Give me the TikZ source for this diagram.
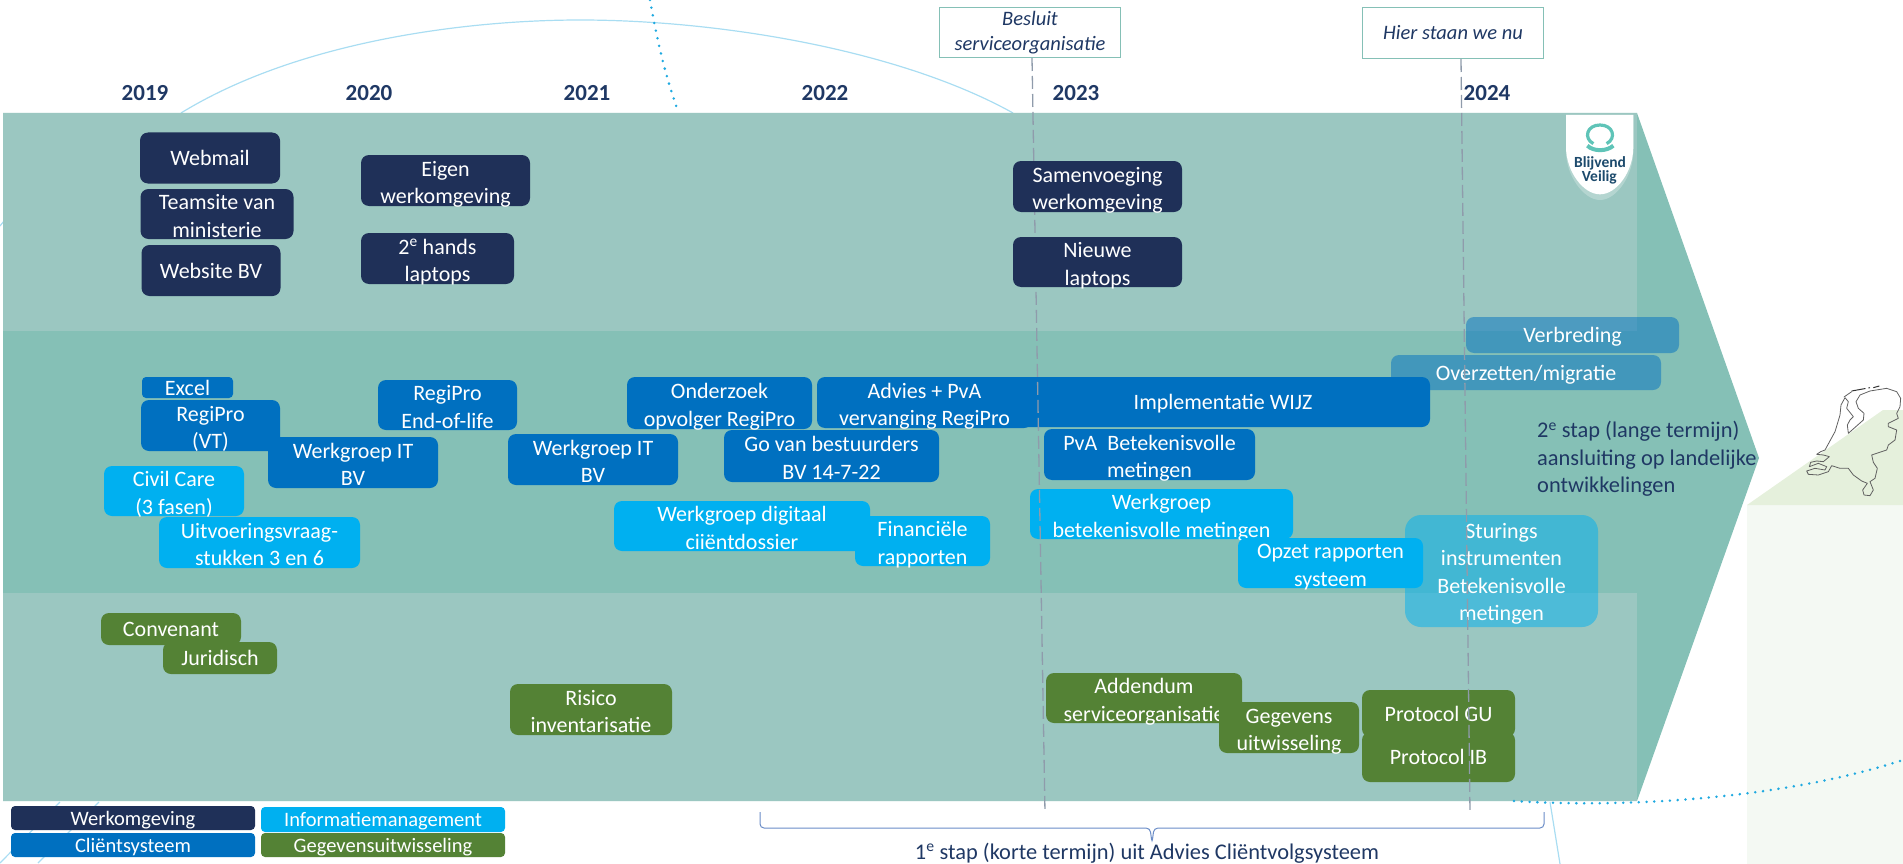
\documentclass[tikz,border=0pt]{standalone}
\usepackage{fontspec}
\setmainfont{Carlito}
\usetikzlibrary{calc}
\definecolor{bandlight}{HTML}{9BC7C1}
\definecolor{banddark}{HTML}{85C0B6}
\definecolor{navyfill}{HTML}{1F3058}
\definecolor{bluefill}{HTML}{0070C0}
\definecolor{skyfill}{HTML}{00B0F0}
\definecolor{greenfill}{HTML}{548235}
\definecolor{inktext}{HTML}{1F3864}
\definecolor{arcline}{HTML}{A9DDF2}
\definecolor{dotline}{HTML}{1FA9E0}
\definecolor{markgray}{HTML}{8F9BAB}
\definecolor{landgreen}{HTML}{E5F0DC}
\definecolor{palegreen}{HTML}{F4F9F3}
\definecolor{logoteal}{HTML}{5FC4B8}
\definecolor{logoink}{HTML}{1C4A6C}
\definecolor{bracecol}{HTML}{6A8CC7}
\tikzset{
  dims/.style 2 args={minimum width=#1,minimum height=#2},
  tlbox/.style={rounded corners=8,inner sep=0,align=center,text=white,
    font=\fontsize{22}{27.5}\selectfont},
  single/.style={text height=20pt,text depth=5pt},
  multi/.style={text height=46pt,text depth=0pt},
  navybox/.style={tlbox,fill=navyfill},
  bluebox/.style={tlbox,fill=bluefill},
  skybox/.style={tlbox,fill=skyfill},
  greenbox/.style={tlbox,fill=greenfill},
  fadebox/.style={tlbox,fill=bluefill,fill opacity=.5,text opacity=1},
  fadesky/.style={tlbox,fill=skyfill,fill opacity=.5,text opacity=1},
  legendbox/.style={tlbox,rounded corners=4,text height=19pt,text depth=5pt,font=\fontsize{20.5}{24}\selectfont},
  yearlabel/.style={text=inktext,font=\fontsize{23}{26}\selectfont\bfseries,inner sep=0},
  notebox/.style={draw=banddark,line width=1.3,fill=white,inner sep=0,align=center,
    text=inktext,font=\fontsize{20.5}{25}\selectfont\itshape},
  markline/.style={markgray,line width=1.3,dash pattern=on 13pt off 5pt},
  bgarc/.style={arcline,line width=1.2},
  bgdots/.style={dotline,line width=2.8,line cap=round,dash pattern=on 0pt off 7.8pt}
}
\begin{document}
\begin{tikzpicture}[x=1pt,y=-1pt]
\useasboundingbox (0,0) rectangle (1903,864);
% achtergrond rechts
\fill[palegreen] (1747,505) rectangle (1903,864);
\fill[landgreen] (1747,505) -- (1883,410) -- (1903,410) -- (1903,505) -- cycle;
\draw[bgarc] (181,113) .. controls (300,40) and (470,20) .. (580,20)
  .. controls (720,20) and (900,50) .. (1013,113);
\draw[bgarc] (0,226) -- (4,221);
\draw[bgarc] (60,802) -- (0,863);
\draw[bgarc] (99,802) -- (38,863);
\draw[bgarc] (1550,802) -- (1560,864);
\draw[bgdots] (650,0) .. controls (657,40) and (665,75) .. (678,111);
% pijl en banden
\fill[banddark] (3,113) -- (1637,113) -- (1759,458) -- (1637,801) -- (3,801) -- cycle;
\fill[bandlight] (3,113) rectangle (1637,331);
\fill[bandlight] (3,593) rectangle (1637,801);
\draw[bgdots] (1514,801) .. controls (1620,808) and (1780,800) .. (1903,760);
% kaart
\begin{scope}[shift={(1790,375)},x=.3333pt,y=-.3333pt]
\draw[gray!75!black,line width=.8,line join=round]
  (105,225) -- (135,170) -- (150,120) -- (153,90) -- (165,68) -- (175,80) -- (170,100)
  -- (190,125) -- (180,135) -- (172,150) -- (175,175) -- (220,135) -- (222,115)
  -- (205,100) -- (198,80) -- (210,60) -- (240,48) -- (290,40) -- (320,50) -- (332,70)
  -- (330,95) -- (320,115) -- (325,130) -- (295,145) -- (295,155) -- (320,165)
  -- (315,195) -- (295,210) -- (290,225) -- (245,240) -- (250,262) -- (262,280)
  -- (255,310) -- (240,320) -- (250,345) -- (240,362) -- (222,360) -- (218,345)
  -- (232,325) -- (215,318) -- (190,300) -- (175,280) -- (150,280) -- (125,272)
  -- (115,290) -- (85,300) -- (55,298) -- (50,288) -- (75,280) -- (105,285)
  -- (110,275) -- (85,265) -- (58,275) -- (62,262) -- (80,258) -- (100,260)
  -- (118,245) -- (100,240) -- (80,238) -- (92,230) -- cycle;
\draw[gray!75!black,line width=.8,line cap=round] (162,66) -- (185,50);
\draw[black!80,line width=1,dash pattern=on 14pt off 3pt] (185,48) -- (240,38);
\draw[black!80,line width=1] (250,38) -- (268,33);
\end{scope}
% logo
\begin{scope}[shift={(1550,105)},x=.3333pt,y=-.3333pt]
\fill[white,opacity=.25] (48,30) -- (250,30) -- (250,140) .. controls (250,210) and (200,285) .. (150,285)
  .. controls (100,285) and (48,210) .. (48,140) -- cycle;
\fill[white] (48,30) -- (250,30) -- (250,125) .. controls (250,200) and (200,268) .. (150,268)
  .. controls (100,268) and (48,200) .. (48,125) -- cycle;
\draw[logoteal,line width=3.2] (130,116) .. controls (100,100) and (110,60) .. (150,60)
  .. controls (190,60) and (200,100) .. (170,116);
\draw[logoteal,line width=4] (112,122) .. controls (130,140) and (170,140) .. (190,122);
\node[inner sep=0,text=logoink,font=\fontsize{15.5}{17}\selectfont\bfseries] (logotop) at (150,175) {Blijvend};
\node[inner sep=0,text=logoink,font=\fontsize{15.5}{17}\selectfont\bfseries] (logobot) at (148,217) {Veilig};
\end{scope}
% jaren
\node[yearlabel] (y2019) at (145,93) {2019};
\node[yearlabel] (y2020) at (369,93) {2020};
\node[yearlabel] (y2021) at (587,93) {2021};
\node[yearlabel] (y2022) at (825,93) {2022};
\node[yearlabel] (y2023) at (1076,93) {2023};
\node[yearlabel] (y2024) at (1487,93) {2024};
% besluiten
\node[notebox,dims={181}{50}] (besluit) at (1030,32.5) {Besluit\\serviceorganisatie};
\node[notebox,dims={181}{51}] (hier) at (1453,33) {Hier staan we nu};
\coordinate (besluittop) at (1032,58);
\coordinate (besluitend) at (1045,813);
\coordinate (hiertop) at (1461,59);
\coordinate (hierend) at (1470,813);
% clientsysteem
\node[bluebox,rounded corners=4,text height=16pt,text depth=1pt,dims={91}{21}] (excel) at (187.5,387.5) {Excel};
\node[bluebox,multi,dims={139}{51}] (regipro) at (210.5,425.5) {RegiPro\\(VT)};
\node[bluebox,multi,dims={170}{51}] (werkit1) at (353,462.5) {Werkgroep IT\\BV};
\node[bluebox,multi,dims={139}{50}] (regieol) at (447.5,405) {RegiPro\\End-of-life};
\node[bluebox,multi,dims={170}{51}] (werkit2) at (593,459.5) {Werkgroep IT\\BV};
\node[bluebox,multi,dims={185}{52}] (onderzoek) at (719.5,403) {Onderzoek\\opvolger RegiPro};
\node[bluebox,multi,dims={215}{52}] (gobest) at (831.5,456) {Go van bestuurders\\BV 14-7-22};
\node[bluebox,multi,dims={215}{51}] (advies) at (924.5,402.5) {Advies + PvA\\vervanging RegiPro};
\node[bluebox,single,dims={414}{50}] (wijz) at (1223,402) {Implementatie WIJZ};
\node[bluebox,multi,dims={211}{51}] (pva) at (1149.5,454.5) {PvA\ \ Betekenisvolle\\metingen};
% informatiemanagement
\node[skybox,multi,dims={140}{50}] (civil) at (174,491) {Civil Care\\(3 fasen)};
\node[skybox,multi,dims={201}{51}] (uitvoer) at (259.5,542.5) {Uitvoeringsvraag-\\stukken 3 en 6};
\node[skybox,multi,dims={256}{50}] (werkdig) at (742,526) {Werkgroep digitaal\\ciiëntdossier};
\node[skybox,multi,dims={135}{50}] (financ) at (922.5,541) {Financiële\\rapporten};
\node[skybox,multi,dims={263}{50}] (werkbet) at (1161.5,514) {Werkgroep\\betekenisvolle metingen};
\node[skybox,multi,dims={185}{50}] (opzet) at (1330.5,563) {Opzet rapporten\\systeem};
\node[fadesky,multi,text height=99pt,rounded corners=16,dims={193}{112}] (sturing) at (1501.5,571) {Sturings\\instrumenten\\Betekenisvolle\\metingen};
\node[fadebox,single,dims={213}{36}] (verbreding) at (1572.5,335) {Verbreding};
\node[fadebox,single,dims={270}{35}] (overzetten) at (1526,372.5) {Overzetten/migratie};
% gegevensuitwisseling
\node[greenbox,single,dims={140}{32}] (convenant) at (171,629) {Convenant};
\node[greenbox,single,dims={114}{32}] (juridisch) at (220,658) {Juridisch};
\node[greenbox,multi,dims={162}{51}] (risico) at (591,709.5) {Risico\\inventarisatie};
\node[greenbox,multi,dims={196}{50}] (addendum) at (1144,698) {Addendum\\serviceorganisatie};
\node[greenbox,multi,dims={140}{51}] (gegevens) at (1289,727.5) {Gegevens\\uitwisseling};
\node[greenbox,single,dims={153}{47}] (protgu) at (1438.5,713.5) {Protocol GU};
\node[greenbox,single,dims={153}{50}] (protib) at (1438.5,757) {Protocol IB};
% lijnen
\draw[markline] (besluittop) -- (besluitend);
\draw[markline] (hiertop) -- (hierend);
% werkomgeving
\node[navybox,single,dims={140}{51}] (webmail) at (210,158) {Webmail};
\node[navybox,multi,dims={153}{50}] (teamsite) at (217,214) {Teamsite van\\ministerie};
\node[navybox,single,dims={139}{51}] (website) at (211,270.5) {Website BV};
\node[navybox,multi,dims={169}{51}] (eigen) at (445.5,180.5) {Eigen\\werkomgeving};
\node[navybox,multi,dims={153}{51}] (hands) at (437.5,258.5) {2\textsuperscript{e} hands\\laptops};
\node[navybox,multi,dims={169}{51}] (samen) at (1097.5,186.5) {Samenvoeging\\werkomgeving};
\node[navybox,multi,dims={169}{50}] (nieuwe) at (1097.5,262) {Nieuwe\\laptops};
% tekst rechts
\node[anchor=north west,inner sep=0,align=left,text=inktext,font=\fontsize{22.4}{27.5}\selectfont] (stap2) at (1537,421) {2\textsuperscript{e} stap (lange termijn)\\aansluiting op landelijke\\ontwikkelingen};
% legenda
\node[navybox,legendbox,dims={244}{24}] (legwerk) at (133,818) {Werkomgeving};
\node[bluebox,legendbox,dims={244}{24}] (legclient) at (133,845) {Cliëntsysteem};
\node[skybox,legendbox,dims={244}{25}] (leginfo) at (383,819.5) {Informatiemanagement};
\node[greenbox,legendbox,dims={244}{24}] (leggeg) at (383,845) {Gegevensuitwisseling};
% accolade
\coordinate (bracel) at (760,812);
\coordinate (bracer) at (1544,812);
\coordinate (bracetip) at (1152,843);
\draw[bracecol,line width=1,rounded corners=4] (bracel) -- (760,828) -- ($(bracetip)+(-2,-15)$) -- (bracetip) -- ($(bracetip)+(2,-15)$) -- (1544,828) -- (bracer);
\node[inner sep=0,text=inktext,font=\fontsize{22.4}{25}\selectfont] (stap1) at (1147,853) {1\textsuperscript{e} stap (korte termijn) uit Advies Cliëntvolgsysteem};
\end{tikzpicture}
\end{document}
